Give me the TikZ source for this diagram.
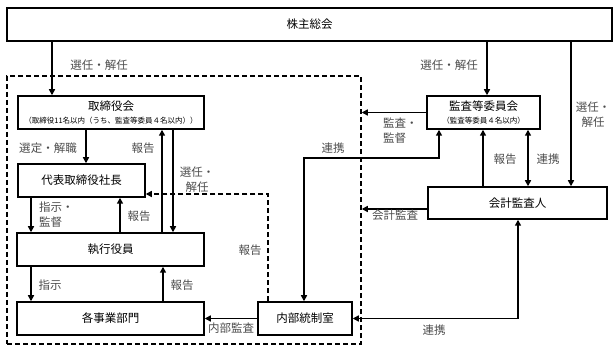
\documentclass[tikz,border=0pt]{standalone}
\usepackage{fontspec}
\setmainfont{Noto Sans CJK JP}
\usetikzlibrary{arrows.meta}
\begin{document}
\begin{tikzpicture}[x=1pt,y=-1pt,
  box/.style={draw,line width=1.5pt,minimum height=33pt,inner sep=0pt,font=\fontsize{11.5}{12}\selectfont},
  ttl/.style={inner sep=0pt,font=\fontsize{11.5}{12}\selectfont},
  sub/.style={inner sep=0pt,font=\fontsize{7.5}{8}\selectfont},
  lbl/.style={text=black!70,inner sep=0pt,font=\fontsize{11.5}{15}\selectfont},
  arr/.style={line width=1.5pt,-{Triangle[length=6pt,width=6pt]}},
  darr/.style={line width=1.5pt,{Triangle[length=6pt,width=6pt]}-{Triangle[length=6pt,width=6pt]}},
  dsh/.style={line width=1.5pt,dash pattern=on 5pt off 3pt}]
\path[use as bounding box] (0,0) rectangle (615,352);
% boxes
\node[box,minimum width=605pt] (kabu) at (309.5,24.5) {株主総会};
\node[draw,dsh,minimum width=354pt,minimum height=268pt,inner sep=0pt] (dbox) at (184,210) {};
\node[box,minimum width=186pt] (tori) at (111,112.5) {};
\node[ttl] (toriT) at (111,106) {取締役会};
\node[sub] (toriS) at (111,121) {（取締役11名以内（うち、監査等委員４名以内））};
\node[box,minimum width=127pt] (daihyo) at (81.5,180.5) {代表取締役社長};
\node[box,minimum width=187pt] (shikko) at (110.5,249.5) {執行役員};
\node[box,minimum width=187pt] (kaku) at (110.5,318.5) {各事業部門};
\node[box,minimum width=94pt] (naibu) at (305,318.5) {内部統制室};
\node[box,minimum width=113pt] (kansa) at (483.5,112.5) {};
\node[ttl] (kansaT) at (483.5,106) {監査等委員会};
\node[sub] (kansaS) at (483.5,121) {（監査等委員４名以内）};
\node[box,minimum width=179pt,minimum height=32pt] (kaikei) at (517.5,203) {会計監査人};
% helper coordinates
\coordinate (x52) at (52,0);
\coordinate (x487) at (487,0);
\coordinate (x571) at (571,0);
\coordinate (x86) at (86,0);
\coordinate (x162) at (162,0);
\coordinate (x173) at (173,0);
\coordinate (x31) at (31,0);
\coordinate (x120) at (120,0);
\coordinate (x163) at (163,0);
\coordinate (x268) at (268,0);
\coordinate (x304) at (304,0);
\coordinate (x439) at (439,0);
\coordinate (x483) at (483,0);
\coordinate (x528) at (528,0);
\coordinate (x518) at (518,0);
\coordinate (y194) at (0,194);
\coordinate (y158) at (0,158);
\coordinate (y209) at (0,209);
% connectors
\draw[arr] (kabu.south -| x52) -- (tori.north -| x52);
\draw[arr] (kabu.south -| x487) -- (kansa.north -| x487);
\draw[arr] (kabu.south -| x571) -- (kaikei.north -| x571);
\draw[arr] (tori.south -| x86) -- (daihyo.north -| x86);
\draw[arr] (shikko.north -| x162) -- (tori.south -| x162);
\draw[arr] (tori.south -| x173) -- (shikko.north -| x173);
\draw[arr] (daihyo.south -| x31) -- (shikko.north -| x31);
\draw[arr] (shikko.north -| x120) -- (daihyo.south -| x120);
\draw[arr] (shikko.south -| x31) -- (kaku.north -| x31);
\draw[arr] (kaku.north -| x163) -- (shikko.south -| x163);
\draw[arr] (naibu.west) -- (kaku.east);
\draw[dsh,-{Triangle[length=6pt,width=6pt]}] (naibu.north -| x268) -- (x268 |- y194) -- (daihyo.east |- y194);
\draw[arr] (kansa.west) -- (dbox.east |- kansa.west);
\draw[darr] (naibu.north -| x304) -- (x304 |- y158) -- (x439 |- y158) -- (kansa.south -| x439);
\draw[arr] (kaikei.north -| x483) -- (kansa.south -| x483);
\draw[darr] (kansa.south -| x528) -- (kaikei.north -| x528);
\draw[arr] (kaikei.west |- y209) -- (dbox.east |- y209);
\draw[darr] (kaikei.south -| x518) -- (x518 |- naibu.east) -- (naibu.east);
% labels
\node[lbl] (l1) at (99,65) {選任・解任};
\node[lbl] (l2) at (449,65) {選任・解任};
\node[lbl,align=center] (l3) at (593,115) {選任・\\解任};
\node[lbl] (l4) at (48,148) {選定・解職};
\node[lbl] (l5) at (143,148) {報告};
\node[lbl,align=center] (l6) at (197,180) {選任・\\解任};
\node[lbl,align=left,anchor=west] (l7) at (39,214.5) {指示・\\監督};
\node[lbl] (l8) at (139,216) {報告};
\node[lbl] (l9) at (50,285) {指示};
\node[lbl] (l10) at (182,285) {報告};
\node[lbl] (l11) at (250,250) {報告};
\node[lbl] (l12) at (231,328) {内部監査};
\node[lbl,align=left,anchor=west] (l13) at (383,131) {監査・\\監督};
\node[lbl] (l14) at (333,148) {連携};
\node[lbl] (l15) at (505,159) {報告};
\node[lbl] (l16) at (548,159) {連携};
\node[lbl] (l17) at (395,215) {会計監査};
\node[lbl] (l18) at (434,330) {連携};
\end{tikzpicture}
\end{document}
